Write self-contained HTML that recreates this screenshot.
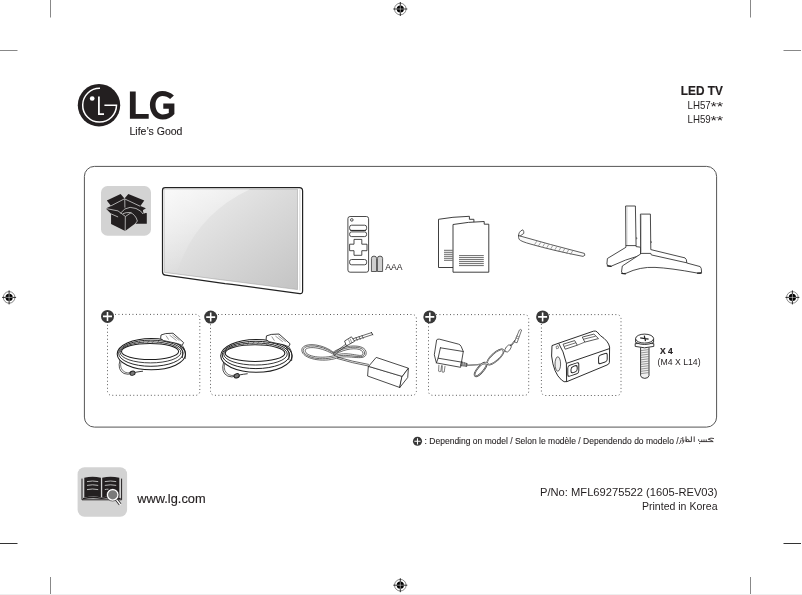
<!DOCTYPE html>
<html><head><meta charset="utf-8">
<style>
html,body{margin:0;padding:0;background:#fff;width:802px;height:595px;overflow:hidden}
svg{position:absolute;left:0;top:0;display:block;will-change:transform}
text{font-family:"Liberation Sans",sans-serif;fill:#231f20}
</style></head>
<body>
<svg width="802" height="595" viewBox="0 0 802 595">
<defs>
  <g id="reg">
    <circle cx="0" cy="0" r="5.8" fill="none" stroke="#555" stroke-width="0.7"/>
    <circle cx="0" cy="0" r="3.6" fill="#000"/>
    <path d="M-7 0H7M0 -7V7" stroke="#000" stroke-width="0.8"/>
    <path d="M-3.6 0H3.6M0 -3.6V3.6" stroke="#fff" stroke-width="0.5"/>
  </g>
  <g id="plus">
    <circle cx="0" cy="0" r="6.5" fill="#383838"/>
    <path d="M-4.5 0H4.5M0 -4.5V4.5" stroke="#fff" stroke-width="1.55"/>
  </g>
</defs>
<!-- bottom faint line -->
<rect x="0" y="594" width="802" height="1" fill="#eee"/>
<!-- crop marks -->
<g stroke="#888" stroke-width="1">
  <path d="M50.5 0V17.5"/>
  <path d="M0 50.5H17.5"/>
  <path d="M750.5 0V17.5"/>
  <path d="M783.5 50.5H801"/>
  <path d="M50.5 577V594"/>
  <path d="M750.5 577V594"/>
</g>
<g stroke="#333" stroke-width="1">
  <path d="M0 543.5H17.5"/>
  <path d="M783.5 543.5H801"/>
</g>
<!-- registration marks -->
<use href="#reg" x="400.3" y="9"/>
<use href="#reg" x="400.3" y="585.2"/>
<use href="#reg" x="9.1" y="297.4"/>
<use href="#reg" x="792.4" y="297.4"/>

<!-- LG logo -->
<g>
  <circle cx="99" cy="105.2" r="21.2" fill="#231f20"/>
  <path d="M100 88.3 A16.9 16.9 0 1 0 116.5 105.3 H104.4" fill="none" stroke="#fff" stroke-width="1.5"/>
  <path d="M98.9 96.4 V114.1 H104" fill="none" stroke="#fff" stroke-width="1.75"/>
  <circle cx="92.2" cy="98.5" r="2.35" fill="#fff"/>
</g>
<g fill="#231f20">
  <path d="M129.9 91.6H135.7V113.9H148.7V118.8H129.9Z"/>
  <path d="M173.9 95.6 C170.6 92.4 166.8 90.9 162.3 90.9 C154.8 90.9 149.9 97.2 149.9 105.1 C149.9 113.6 155.4 119.6 162.6 119.6 C167.6 119.6 171.6 117.6 174.4 114.1 V103.6 H163.3 V108.8 H168.8 V113.1 C167.2 114 165 114.4 162.7 114.4 C158.5 114.4 155.5 110.6 155.5 105.1 C155.5 99.6 158.5 96.1 162.4 96.1 C165.6 96.1 168 97.3 170.1 99.1 Z"/>
</g>
<text x="129.5" y="134.5" font-size="10.5" stroke="#231f20" stroke-width="0.12">Life’s Good</text>

<!-- header right -->
<text x="680.8" y="94.9" font-size="13.4" font-weight="bold" textLength="42" lengthAdjust="spacingAndGlyphs" stroke="#231f20" stroke-width="0.2">LED TV</text>
<text x="687.5" y="108.6" font-size="10.8" textLength="23.2" lengthAdjust="spacingAndGlyphs">LH57</text><text x="710.4" y="111.3" font-size="12.5" textLength="12.8" lengthAdjust="spacingAndGlyphs">**</text>
<text x="687.5" y="122.7" font-size="10.8" textLength="23.2" lengthAdjust="spacingAndGlyphs">LH59</text><text x="710.4" y="125.4" font-size="12.5" textLength="12.8" lengthAdjust="spacingAndGlyphs">**</text>

<!-- main box -->
<rect x="84.4" y="166.4" width="632.2" height="260.7" rx="10" fill="none" stroke="#555" stroke-width="1"/>

<!-- grey icon box -->
<rect x="101" y="186" width="50" height="49.7" rx="6.5" fill="#d3d3d3"/>
<g transform="translate(104 190) scale(0.07062)">
  <path d="M40 150 L235 58 L290 120 L345 58 L570 150 L515 228 L592 258 L552 300 L606 330 L606 479 L443 479 L452 468 L300 582 L100 482 L100 338 L25 262 L100 226 Z" fill="#231f20"/>
  <g fill="none" stroke="#d3d3d3" stroke-width="11">
    <path d="M100 224 L290 125 L512 230"/>
    <path d="M294 125 L296 250 M302 375 L300 582"/>
    <path d="M28 262 L198 296 L304 375 L387 319"/>
    <path d="M100 338 L200 382"/>
    <path d="M232 330 Q290 250 370 246 Q460 250 520 300 L552 340"/>
    <path d="M266 336 Q310 315 370 319 Q445 345 473 439 L443 479"/>
  </g>
  <path d="M552 283 L600 262 L606 320 L560 338 Z" fill="#d3d3d3"/>
</g>

<!-- TV -->
<defs>
  <linearGradient id="scr" x1="0" y1="0" x2="1" y2="1">
    <stop offset="0" stop-color="#f2f2f2"/>
    <stop offset="0.5" stop-color="#dadada"/>
    <stop offset="1" stop-color="#c4c4c4"/>
  </linearGradient>
  <linearGradient id="hl" x1="0" y1="0" x2="0.3" y2="1">
    <stop offset="0" stop-color="#fff" stop-opacity="0.55"/>
    <stop offset="1" stop-color="#fff" stop-opacity="0.0"/>
  </linearGradient>
</defs>
<path d="M165.2 187.7 H299.4 Q302.6 187.7 302.6 190.9 V291 Q302.6 294 299.8 293.6 L232 284.4 L225 283.6 L165.4 275.2 Q162.5 274.8 162.5 272 V190.4 Q162.5 187.7 165.2 187.7Z" fill="#fff" stroke="#222" stroke-width="1.2"/>
<path d="M164.3 189.3 H297.5 V289.6 L164.3 272.4Z" fill="url(#scr)" stroke="#9a9a9a" stroke-width="0.5"/>
<path d="M164.3 189.3 H250 Q195 215 177 272.3 L164.3 272.4Z" fill="url(#hl)"/>
<path d="M299.9 189.5 V290.5" stroke="#aaa" stroke-width="0.5"/>
<!-- remote -->
<g fill="none" stroke="#2a2a2a" stroke-width="0.85">
  <rect x="347.9" y="216.5" width="20.7" height="55.7" rx="2.2" fill="#fff"/>
  <circle cx="351.8" cy="219.9" r="1.3"/>
  <rect x="349.6" y="225.2" width="17" height="5.3" rx="2"/>
  <path d="M350.2 230.4 H366" stroke-width="0.9"/>
  <rect x="349.6" y="231.9" width="17" height="4.7" rx="2"/>
  <path d="M354 239.4 H361.8 V244.2 H367 V250.7 H361.8 V255.3 H354 V250.7 H349.6 V244.2 H354 Z" stroke-linejoin="round"/>
  <rect x="349.6" y="259.5" width="17" height="5.3" rx="2"/>
</g>
<g stroke="#333" stroke-width="0.8" fill="#cfcfcf">
  <path d="M371.4 271.5 V258.4 Q371.4 256.1 374 256.1 Q376.6 256.1 376.6 258.4 V271.5 Z"/>
  <path d="M377.4 271.5 V258.4 Q377.4 256.1 380 256.1 Q382.6 256.1 382.6 258.4 V271.5 Z"/>
</g>
<text x="385.2" y="269.8" font-size="8.6" fill="#333">AAA</text>
<!-- manuals -->
<g fill="#fff" stroke="#2a2a2a" stroke-width="0.9" stroke-linejoin="round">
  <path d="M438.5 267.5 V219.3 Q452 216.8 469.4 216.3 V219.3 H473.9 V267.5 Z"/>
  <path d="M453 272.2 V224.5 Q468 221.8 484.2 221.5 V224.2 H488.8 V272.2 Z"/>
</g>
<g stroke="#2a2a2a" stroke-width="0.7">
  <path d="M444 250.3H452.6M444 252.3H452.6M444 254.3H452.6M444 256.3H452.6M444 258.3H452.6M444 260.3H452.6"/>
  <path d="M459 255.6H483.8M459 257.6H483.8M459 259.6H483.8M459 261.6H483.8M459 263.6H483.8M459 265.6H483.8"/>
</g>
<!-- cable cover -->
<g fill="none" stroke="#333" stroke-width="0.8" stroke-linecap="round" stroke-linejoin="round">
  <path d="M518.6 235.6 Q550 244.6 584.4 253.4 Q586 255.6 583 256.4 Q553 250.5 531 244.2 Q521 241.5 519.2 239.4 Q518.3 238 518.6 235.6 Z" fill="#fafafa"/>
  <path d="M518.6 235.8 Q518.3 231.6 522.8 229.8 Q524.2 231.6 523.8 233.4 L520.4 235.8"/>
  <path d="M534.6 244.5 L536.6 241.5M538.6 245.7 L540.6 242.6M542.6 246.9 L544.6 243.7M546.6 248.0 L548.6 244.8M550.6 249.1 L552.6 245.9M554.6 250.2 L556.6 247.0M558.6 251.2 L560.6 248.0M562.6 252.2 L564.6 249.0M566.6 253.2 L568.6 250.0M570.6 254.2 L572.6 251.0" stroke="#777" stroke-width="0.7"/>
</g>
<!-- stand -->
<g fill="#fff" stroke="#2a2a2a" stroke-width="0.85" stroke-linejoin="round">
  <!-- back stand -->
  <path d="M625.6 206 H635.4 L636.1 246.6 L640.5 247.2 L640.5 255.3 Q625 259.5 611.2 266.2 Q607.2 266.7 606.9 264 L607.4 258.5 L625.9 247.3 Z"/>
  <path d="M625.9 245.6 H636"/>
  <!-- front stand -->
  <path d="M640.4 214.1 H650.4 L650.8 249.6 L685 257.9 Q686.8 258.8 686.8 263 L700.2 266.6 Q701.6 267.5 701.6 272.4 Q700.8 274 697 273 Q670 268 655 267.4 Q640 266.6 626 273.3 Q622 274.5 621.5 272 L622.3 266 L640.6 254 Z"/>
  <path d="M640.6 253.4 H650.8 L651.3 254.9 L686.7 262.8" fill="none"/>
  <path d="M636 237.5 l1.2 0.8 -1.2 0.8M650.6 241.3 l1.2 0.8 -1.2 0.8" fill="none" stroke-width="0.6"/>
</g>
<path d="M627 207 V245 M641.5 215 V252.5" stroke="#bbb" stroke-width="0.7"/>
<path d="M607.4 265.8 L611 266.4 M621.8 273.4 L625.4 273.8 M697.6 273.2 L701.2 273" stroke="#222" stroke-width="1.3" stroke-linecap="round"/>
<!-- dotted boxes -->
<g fill="none" stroke="#333" stroke-width="0.9" stroke-dasharray="0.9 2.6">
  <rect x="107.5" y="314.4" width="92.3" height="80.9" rx="4"/>
  <rect x="210.5" y="314.5" width="205.9" height="80.8" rx="4"/>
  <rect x="428.5" y="314.6" width="100.2" height="80.7" rx="4"/>
  <rect x="541.4" y="314.6" width="79.6" height="80.9" rx="4"/>
</g>
<!-- coils -->
<defs>
<g id="coil" fill="none" stroke="#1e1e1e" stroke-width="0.95">
  <ellipse cx="151.35" cy="354.10" rx="34.15" ry="15.70" fill="#fff" stroke-width="1.05"/>
  <ellipse cx="150.91" cy="353.22" rx="32.25" ry="13.08" />
  <ellipse cx="150.48" cy="352.36" rx="30.40" ry="10.54" stroke-width="0.85"/>
  <ellipse cx="150.05" cy="351.50" rx="28.55" ry="8.00" stroke-width="1.05"/>
  <path d="M125.15 347.44 L124.13 346.07 M127.71 346.35 L127.22 344.49 M130.82 345.40 L130.89 343.12 M134.41 344.60 L135.06 342.00 M138.39 343.97 L139.61 341.15 M142.65 343.53 L144.44 340.60 M147.10 343.29 L149.42 340.35 M151.62 343.26 L154.45 340.42 M156.11 343.43 L159.38 340.80 M160.45 343.80 L164.10 341.48 M164.53 344.37 L168.50 342.45" stroke="#444" stroke-width="0.6"/>
  <path d="M120 360 Q117 370 124 373.5 Q128 375 131.5 373.5" stroke-width="0.75"/>
  <path d="M121 361.4 Q119.2 369 125 372.2 Q128 373.6 131 372.4" stroke-width="0.6"/>
  <ellipse cx="132.5" cy="373.2" rx="2.6" ry="2" fill="#777" transform="rotate(-20 132.5 373.2)"/>
  <path d="M135 372.4 Q139 371.6 143 371.2" stroke-width="0.85"/>
  <path d="M160.6 338.6 L161 335 L165.6 333.6 L173 333.2 L183.6 342.6 L182.2 345.4 L177.6 343.6 L163.6 340.6 Z" fill="#fff" stroke-width="0.85"/>
  <path d="M166 335.6 L168.6 339.6 M169.6 335.2 l7 5.4 M172.4 335 l7 5.6" stroke-width="0.6" stroke="#555"/>
  <path d="M182.4 345.6 Q186.6 351 185 359 M180 345.6 Q183.8 351 182.4 358" stroke-width="0.8"/>
</g>
</defs>
<use href="#coil"/>
<use href="#coil" transform="translate(220.5 338.5) scale(1.045) translate(-117 -337.5)"/>
<!-- adapter 1 -->
<g fill="none" stroke-linecap="round" stroke-linejoin="round" stroke="#2a2a2a">
  <g stroke-width="0.7">
    <path d="M334 353.5 C322 344.5 303 343.5 303.2 350.5 C303.5 357.5 322 361.5 336.5 356.5 C348 352.5 365 361 364.6 353 C364.2 344.5 344 346 334 353.5"/>
    <path d="M334.5 355 C321 346.2 305 345.8 305.2 350.8 C305.5 356.4 322 359.6 336.5 355 C349 350.8 363.2 359 363 353.4 C362.6 346.4 345 347.6 334.5 355"/>
    <path d="M333.2 352.2 C322 343 301.6 342 301.8 350.2 C302 358.8 323 363 337 358 C349 354 366.4 362.4 366.2 352.8 C365.8 343 343 344.6 333.2 352.2"/>
    <path d="M337 357 Q352 361.5 368.5 364.4 M337.5 358.6 Q352 363 368.3 366"/>
    <path d="M333.6 353.2 L346.6 343.6 M335 354.2 L347.6 345"/>
    <path d="M353.4 338.6 L371.6 332.6 M354.4 340.6 L372.6 334.6"/>
  </g>
  <path d="M346.2 345.6 L344.6 341 L351.4 336.8 L354.4 341 Z" fill="#fff" stroke-width="0.8"/>
  <path d="M348.6 339.8 l1.6 3.6 M350.2 339 l1.6 3.6" stroke-width="0.5"/>
  <path d="M356 337.4 l1.2 3 M359 336.4 l1.2 3 M362 335.4 l1.2 3" stroke-width="0.6"/>
  <path d="M371.4 332.4 l1.4 2.4" stroke-width="0.9"/>
  <g stroke-width="0.85" fill="#fff">
    <path d="M368.3 366.7 L376.2 357.4 L408.4 368.2 L402 376.8 Z"/>
    <path d="M368.3 366.7 L367.6 376 L399.8 387.5 L402 376.8 Z"/>
    <path d="M402 376.8 L408.4 368.2 L407.7 377.5 L399.8 387.5 Z"/>
  </g>
</g>
<!-- wall adapter -->
<g fill="none" stroke="#2a2a2a" stroke-width="0.75" stroke-linejoin="round" stroke-linecap="round">
  <path d="M436.9 339.6 Q437.6 338.8 439.6 339.2 L458.4 344.1 Q460.3 344.6 461.1 346.3 L463.3 351.5 L460.6 367.3 L436.4 362.9 L434.4 355.2 Z" fill="#fff" stroke-width="0.85"/>
  <path d="M440.4 347.8 L463.3 351.5 M440.4 347.8 L438.1 358.2 L436.4 362.9 M438.1 358.2 L462 362.2" stroke-width="0.85"/>
  <path d="M438.9 365.2 L438.6 371.2 Q439.6 372 440.8 371.4 L441.6 365.6 M442.3 365.8 L442 371.8 Q443 372.6 444.2 372 L445 366.2" stroke-width="0.6"/>
  <path d="M461.8 361.9 L467.2 363.6 L466.8 366.4 L460.9 365.6 Z" fill="#777" stroke-width="0.7"/>
  <path d="M463.4 362.4 l-0.4 3.4 M465.3 363 l-0.4 3.3" stroke="#fff" stroke-width="0.45"/>
  <g stroke-width="1.45">
    <path d="M467 365.4 Q478 364.8 487.6 363.4 M502.8 350.6 L505.2 350.8 M511 345.6 L515.2 340.4"/>
    <ellipse cx="480.6" cy="369.4" rx="8.6" ry="3" transform="rotate(-50 480.6 369.4)"/>
    <ellipse cx="495.4" cy="357" rx="10.6" ry="3.8" transform="rotate(-42 495.4 357)"/>
  </g>
  <g stroke="#fff" stroke-width="0.5">
    <path d="M467 365.4 Q478 364.8 487.6 363.4 M502.8 350.6 L505.2 350.8 M511 345.6 L515.2 340.4"/>
    <ellipse cx="480.6" cy="369.4" rx="8.6" ry="3" transform="rotate(-50 480.6 369.4)"/>
    <ellipse cx="495.4" cy="357" rx="10.6" ry="3.8" transform="rotate(-42 495.4 357)"/>
  </g>
  <ellipse cx="508.1" cy="348.4" rx="4.2" ry="2.3" transform="rotate(-52 508.1 348.4)" fill="#fff" stroke-width="0.65"/>
  <path d="M514.6 341.6 L519.4 330 Q520.6 328.8 521.6 330 L517.2 342.4 Z" fill="#fff" stroke-width="0.65"/>
  <path d="M516 338 l1.6 0.6 M516.8 336 l1.6 0.6" stroke-width="0.5"/>
</g>
<!-- ferrite -->
<g fill="#fff" stroke="#222" stroke-width="0.95" stroke-linejoin="round">
  <path d="M552 345.6 L558.6 343.2 L593.4 331.2 Q595.5 330.6 597 331.8 L600.4 335.6 Q608.5 341 609.6 347 L609.4 362.5 Q609.2 364.2 607 365 L567 381.6 Q564 382.6 561.5 380 Q553.5 373 551.6 356 Z"/>
  <path d="M558.6 343.2 Q563.5 350.5 566.4 363.4 L566.6 381.6" fill="none"/>
  <path d="M566.4 363.4 L609.5 348.6" fill="none"/>
  <path d="M563.1 344.2 L574.7 340.6 L577.3 345.2 L565.2 349.2 Z M582.3 337.1 L593.9 334.1 L598.5 338.6 L584.8 342.1 Z" fill="#fff" stroke-width="0.75"/>
  <path d="M564.4 346.4 L575.8 342.8 M583.6 339.2 L595.6 336.2 M577.3 345.2 L584.8 342.1" fill="none" stroke-width="0.65"/>
  <rect x="567.8" y="365.5" width="11" height="10.8" rx="2" transform="skewY(-19) translate(0 196)" />
  <rect x="571" y="367.8" width="6.2" height="6.2" rx="2.2" transform="skewY(-19) translate(0 196)" />
  <rect x="598.6" y="355.8" width="8.6" height="8.6" rx="2" transform="skewY(-19) translate(0 206)"/>
  <ellipse cx="557.8" cy="364" rx="2.8" ry="7.2" fill="#eee" stroke-width="0.7"/>
  <path d="M556 346.5 l2 -0.8 l0.6 2.4 l-2 0.8 Z" fill="none" stroke-width="0.5"/>
</g>
<!-- screw -->
<g fill="#fff" stroke="#222" stroke-width="0.9" stroke-linejoin="round">
  <path d="M640.6 347 V375.6 Q641 378.2 644.8 378.4 Q648.6 378.2 649 375.6 V347" fill="#f0f0f0"/>
  <path d="M641 350.6l7.8 -1M641 352.9l7.8 -1M641 355.2l7.8 -1M641 357.5l7.8 -1M641 359.8l7.8 -1M641 362.1l7.8 -1M641 364.4l7.8 -1M641 366.7l7.8 -1M641 369l7.8 -1M641 371.3l7.8 -1M641 373.6l7.8 -1" stroke="#666" stroke-width="0.65"/>
  <path d="M635.2 343.6 H653.8 V346.4 Q644.5 349.2 635.2 346.4 Z"/>
  <path d="M635.6 338.6 V342.4 Q644.6 346.6 653.6 342.4 V338.6"/>
  <ellipse cx="644.6" cy="338.6" rx="9" ry="4.5"/>
  <path d="M640.2 337.8 L648.6 339.2 M644.3 335.6 L645.5 341.2" stroke-width="1.2"/>
</g>
<use href="#plus" x="107.5" y="316.4"/>
<use href="#plus" x="210.7" y="317.1"/>
<use href="#plus" x="429.8" y="316.9"/>
<use href="#plus" x="542.6" y="316.9"/>

<text x="660" y="354" font-size="8.5" font-weight="bold" stroke="#231f20" stroke-width="0.2">X 4</text>
<text x="657.6" y="365.2" font-size="8.8" textLength="43" lengthAdjust="spacingAndGlyphs">(M4 X L14)</text>

<!-- footnote -->
<use href="#plus" transform="translate(417.5 441.3) scale(0.7)"/>
<text x="424.6" y="443.9" font-size="8.3" textLength="254" lengthAdjust="spacingAndGlyphs" stroke="#231f20" stroke-width="0.1">: Depending on model / Selon le modèle / Dependendo do modelo /</text>

<!-- arabic -->
<g fill="none" stroke="#231f20" stroke-width="0.85" stroke-linecap="round" stroke-linejoin="round">
  <path d="M713.6 438.4 Q710.8 437.4 708.2 439.2 Q711.8 440.2 713.2 441.6 H699.6 Q698.4 441.2 698.6 439.6"/>
  <path d="M706.2 441.4 V439.8 M704 441.4 V439.8 M701.8 441.4 V440"/>
  <path d="M694.2 436.8 V441.6"/>
  <path d="M691.4 436.8 V441.6 H686.2 Q685.6 439.4 687.8 439.4 Q689.2 439.6 689.2 441.4 M686 436.8 V441.6"/>
  <path d="M684 440.2 Q684.2 442.4 682.2 443.6"/>
  <path d="M682.8 437.4 V441.2"/>
  <path d="M681 440.2 Q681.2 442.6 679.2 443.8"/>
</g>
<circle cx="699.6" cy="443.6" r="0.5" fill="#231f20"/>
<circle cx="681.2" cy="438.6" r="0.5" fill="#231f20"/>
<!-- bottom -->
<rect x="77.6" y="467.3" width="49.5" height="49.4" rx="7" fill="#d3d3d3"/>
<g>
  <path d="M82 478.6 V499.8 H121.6 V478.6" fill="none" stroke="#231f20" stroke-width="1"/>
  <path d="M84.3 477.8 Q92.5 475.8 100.9 477.8 V497.2 Q92.5 495.8 84.3 497.6 Z" fill="#231f20"/>
  <path d="M102.2 477.8 Q110.5 475.8 119.3 477.8 V497.6 Q110.5 495.8 102.2 497.2 Z" fill="#231f20"/>
  <path d="M83 498.6 Q92 496.5 101.5 498.2 Q111 496.5 120.6 498.6" fill="none" stroke="#231f20" stroke-width="1.4"/>
  <g fill="none" stroke="#c8c8c8" stroke-width="0.9">
    <path d="M87 481.6 Q92.5 480.4 98.2 481.6 M87 485.4 Q92.5 484.2 98.2 485.4 M87 489.6 Q92.5 488.4 98.2 489.6"/>
    <path d="M104.8 481.6 Q110.5 480.4 116.2 481.6 M104.8 485.4 Q110.5 484.2 116.2 485.4 M104.8 489.6 Q106.5 489.2 108.5 489.2"/>
  </g>
  <path d="M115.6 498.6 L120.2 504.4" stroke="#231f20" stroke-width="3"/>
  <path d="M115.6 498.6 L120.2 504.4" stroke="#fff" stroke-width="1.5" stroke-linecap="round"/>
  <circle cx="112.7" cy="494.8" r="5.4" fill="#7a7a7a" stroke="#fff" stroke-width="1.5"/>
  <circle cx="112.7" cy="494.8" r="6.3" fill="none" stroke="#231f20" stroke-width="0.5"/>
</g>
<text x="137.3" y="503" font-size="12.8" stroke="#231f20" stroke-width="0.15">www.lg.com</text>
<text x="540" y="495.5" font-size="11" textLength="177.5" lengthAdjust="spacingAndGlyphs">P/No: MFL69275522 (1605-REV03)</text>
<text x="642" y="510.4" font-size="11" textLength="75.5" lengthAdjust="spacingAndGlyphs">Printed in Korea</text>
</svg>
</body></html>
